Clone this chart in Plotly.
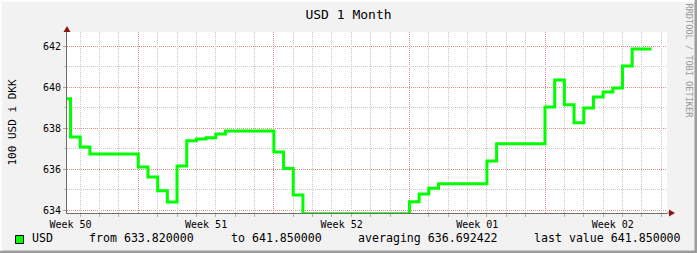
import math
import plotly.graph_objects as go
import pandas as pd

# ---- data ----
times = [
    "2013-12-12 00:00", "2013-12-12 12:00", "2013-12-13 00:00", "2013-12-13 12:00",
    "2013-12-16 00:00", "2013-12-16 12:00", "2013-12-17 00:00", "2013-12-17 12:00",
    "2013-12-18 00:00", "2013-12-18 12:00", "2013-12-19 00:00", "2013-12-19 12:00",
    "2013-12-20 00:00", "2013-12-20 12:00", "2013-12-23 00:00", "2013-12-23 12:00",
    "2013-12-24 00:00", "2013-12-24 12:00", "2013-12-30 00:00", "2013-12-30 12:00",
    "2013-12-31 00:00", "2013-12-31 12:00", "2014-01-03 00:00", "2014-01-03 12:00",
    "2014-01-06 00:00", "2014-01-06 12:00", "2014-01-07 00:00", "2014-01-07 12:00",
    "2014-01-08 00:00", "2014-01-08 12:00", "2014-01-09 00:00", "2014-01-09 12:00",
    "2014-01-10 00:00", "2014-01-10 12:00", "2014-01-11 12:00",
]
usd = [
    639.43, 637.56, 637.07, 636.73,
    636.10, 635.61, 634.94, 634.39,
    636.15, 637.38, 637.46, 637.52,
    637.71, 637.85, 636.83, 636.03,
    634.73, 633.82, 634.40, 634.78,
    635.06, 635.28, 636.39, 637.23,
    639.02, 640.34, 639.14, 638.26,
    638.98, 639.51, 639.76, 639.95,
    641.02, 641.85, 641.85,
]

week_starts = ["2013-12-16", "2013-12-23", "2013-12-30", "2014-01-06"]
week_label_pos = ["2013-12-12 12:00", "2013-12-19 12:00", "2013-12-26 12:00",
                  "2014-01-02 12:00", "2014-01-09 12:00"]
week_labels = ["Week 50", "Week 51", "Week 52", "Week 01", "Week 02"]
x_range = ["2013-12-12 07:39", "2014-01-12 07:09"]
y_range = [633.854, 642.683]
y_major = [634, 636, 638, 640, 642]
y_major_labels = ["634", "636", "638", "640", "642"]
y_minor = [635, 637, 639, 641]

series_name = "USD"
stat_labels = ["from", "to", "averaging", "last value"]
stat_values = [633.82, 641.85, 636.692422, 641.85]
title_text = "USD 1 Month"
y_title = "100 USD i DKK"
watermark = "RRDTOOL / TOBI OETIKER"

# ---- geometry ----
W, H = 697, 253
L, R, T, B = 67, 30, 32, 40
PW, PH = W - L - R, H - T - B

T0, T1 = pd.Timestamp(x_range[0]), pd.Timestamp(x_range[1])
SPAN = T1 - T0


def snap_time(s):
    """Move a grid time onto the centre of its pixel column (crisp dotted lines)."""
    t = pd.Timestamp(s)
    p = L + (t - T0) / SPAN * PW
    p2 = math.floor(p) + 0.5
    return (T0 + SPAN * ((p2 - L) / PW)).strftime("%Y-%m-%d %H:%M:%S.%f")[:-3]


def snap_val(v):
    p = T + (y_range[1] - v) / (y_range[1] - y_range[0]) * PH
    p2 = math.floor(p) + 0.5
    return y_range[1] - (p2 - T) / PH * (y_range[1] - y_range[0])


days = pd.date_range("2013-12-13", "2014-01-12", freq="D")
day_grid = [snap_time(d) for d in days if d.strftime("%Y-%m-%d") not in week_starts]
week_grid = [snap_time(d) for d in week_starts]
y_major_grid = [snap_val(v) for v in y_major]
y_minor_grid = [snap_val(v) for v in y_minor]


def px(x):
    return (x - L) / PW


def py(y):
    return (H - B - y) / PH


MONO = "DejaVu Sans Mono"
GRID = "#C8C8C8"
MGRID = "#E08A8A"
AXIS = "#6E6E6E"
ARROW = "#8E1414"
DASH = "1px,1px"

fig = go.Figure()
fig.add_trace(go.Scatter(x=[], y=[], xaxis="x2", yaxis="y", showlegend=False))
fig.add_trace(go.Scatter(x=[], y=[], xaxis="x", yaxis="y2", showlegend=False))
fig.add_trace(go.Scatter(
    x=times, y=usd, mode="lines", line=dict(color="#00FF00", width=3, shape="hv"),
    xaxis="x", yaxis="y", showlegend=False, hoverinfo="skip",
))

fig.update_layout(
    width=W, height=H,
    margin=dict(l=L, r=R, t=T, b=B, pad=0),
    paper_bgcolor="#F2F2F2",
    plot_bgcolor="#FFFFFF",
    showlegend=False,
    font=dict(family=MONO, color="#000000"),
    title=dict(text=title_text, x=0.5, xref="container", xanchor="center",
               y=1 - 14 / H, yref="container", yanchor="middle",
               font=dict(family=MONO, size=13, color="#000000")),
    # daily (grey) grid on the main x axis
    xaxis=dict(
        type="date", range=x_range, tickmode="array", tickvals=day_grid,
        showticklabels=False, showgrid=True, gridcolor=GRID, griddash=DASH, gridwidth=1,
        ticks="outside", ticklen=3, tickcolor="#B0B0B0",
        showline=True, linecolor=AXIS, linewidth=1, zeroline=False, fixedrange=True,
    ),
    # week labels
    xaxis2=dict(
        type="date", range=x_range, overlaying="x", anchor="y", side="bottom",
        tickmode="array", tickvals=week_label_pos, ticktext=week_labels, showgrid=False,
        ticks="", ticklabelstandoff=4, showline=False,
        zeroline=False, tickfont=dict(family=MONO, size=10, color="#000000"),
    ),
    # minor (grey) y grid
    yaxis=dict(
        range=y_range, tickmode="array", tickvals=y_minor_grid, showticklabels=False,
        showgrid=True, gridcolor=GRID, griddash=DASH, gridwidth=1,
        ticks="outside", ticklen=2, tickcolor="#C0C0C0",
        showline=True, linecolor=AXIS, linewidth=1, zeroline=False, fixedrange=True,
    ),
    # y labels
    yaxis2=dict(
        range=y_range, overlaying="y", anchor="x", side="left", tickmode="array",
        tickvals=y_major_grid, ticktext=y_major_labels, showgrid=False,
        ticks="outside", ticklen=3, tickcolor=MGRID, showline=False, zeroline=False,
        tickfont=dict(family=MONO, size=10, color="#000000"),
    ),
)

shapes = []
# major (weekly / every 2 units) grid lines in red
for wg in week_grid:
    shapes.append(dict(type="line", xref="x", yref="paper", x0=wg, x1=wg, y0=0, y1=1,
                       layer="below", line=dict(color=MGRID, width=1, dash=DASH)))
for yg in y_major_grid:
    shapes.append(dict(type="line", xref="paper", yref="y", x0=0, x1=1, y0=yg, y1=yg,
                       layer="below", line=dict(color=MGRID, width=1, dash=DASH)))
# axis extensions and arrows
shapes.append(dict(type="line", xref="paper", yref="paper", x0=0, x1=0,
                   y0=1, y1=py(29), line=dict(color=AXIS, width=1)))
shapes.append(dict(type="path", xref="paper", yref="paper",
                   path=f"M {px(63.5)} {py(32)} L {px(70.5)} {py(32)} L {px(67)} {py(26)} Z",
                   fillcolor=ARROW, line=dict(width=0)))
shapes.append(dict(type="line", xref="paper", yref="paper", x0=1, x1=px(670),
                   y0=0, y1=0, line=dict(color=AXIS, width=1)))
shapes.append(dict(type="path", xref="paper", yref="paper",
                   path=f"M {px(669)} {py(209.5)} L {px(669)} {py(216.5)} L {px(675)} {py(213)} Z",
                   fillcolor=ARROW, line=dict(width=0)))
# frame
shapes.append(dict(type="rect", xref="paper", yref="paper", x0=px(0), x1=px(697),
                   y0=py(250.5), y1=py(253), fillcolor="#9C9C9C", line=dict(width=0)))
shapes.append(dict(type="rect", xref="paper", yref="paper", x0=px(694.5), x1=px(697),
                   y0=py(0), y1=py(253), fillcolor="#9C9C9C", line=dict(width=0)))
shapes.append(dict(type="rect", xref="paper", yref="paper", x0=px(0), x1=px(694.5),
                   y0=py(0), y1=py(2), fillcolor="#FCFCFC", line=dict(width=0)))
shapes.append(dict(type="rect", xref="paper", yref="paper", x0=px(0), x1=px(2),
                   y0=py(0), y1=py(250.5), fillcolor="#FCFCFC", line=dict(width=0)))
# legend swatch
shapes.append(dict(type="rect", xref="paper", yref="paper", x0=px(15.5), x1=px(23.5),
                   y0=py(243.5), y1=py(235.5), fillcolor="#00FF00",
                   line=dict(color="#000000", width=1)))
fig.update_layout(shapes=shapes)

ann = []
ann.append(dict(text=y_title, xref="paper", yref="paper", x=px(12), y=py(122.5),
                textangle=-90, showarrow=False, xanchor="center", yanchor="middle",
                font=dict(family=MONO, size=11, color="#000000")))
ann.append(dict(text=watermark, xref="paper", yref="paper", x=px(688.5), y=py(61),
                textangle=90, showarrow=False, xanchor="center", yanchor="middle",
                font=dict(family=MONO, size=8.6, color="#9A9A9A")))
leg_y = py(238.5)
ann.append(dict(text=series_name, xref="paper", yref="paper", x=px(30), y=leg_y,
                showarrow=False, xanchor="left", yanchor="middle",
                font=dict(family=MONO, size=11.6, color="#000000")))
stat_x = [87, 229, 356, 532]
for lab, val, sx in zip(stat_labels, stat_values, stat_x):
    ann.append(dict(text=f"{lab} {val:.6f}", xref="paper", yref="paper", x=px(sx), y=leg_y,
                    showarrow=False, xanchor="left", yanchor="middle",
                    font=dict(family=MONO, size=11.6, color="#000000")))
fig.update_layout(annotations=ann)

fig.write_html("out.html")
